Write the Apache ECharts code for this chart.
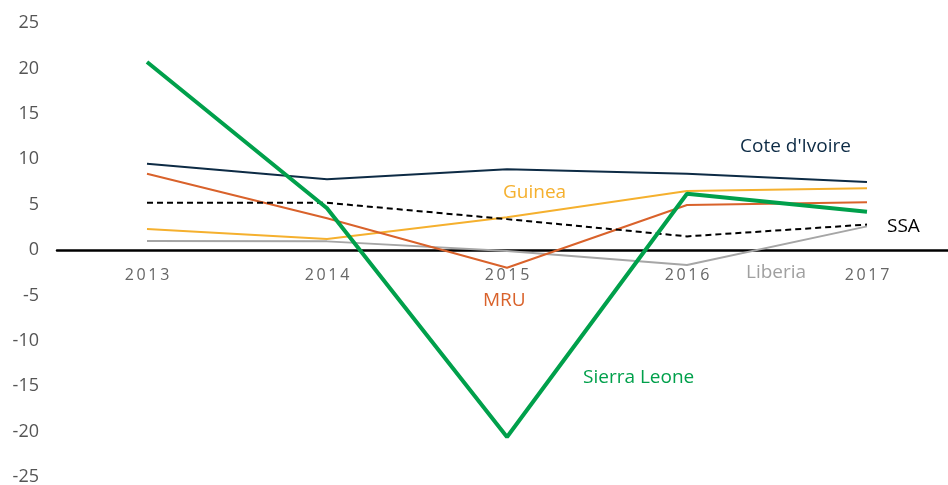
<!DOCTYPE html>
<html>
<head>
<meta charset="utf-8">
<script src="https://cdn.jsdelivr.net/npm/echarts@6/dist/echarts.min.js"></script>
<style>
  html, body { margin: 0; padding: 0; background: #fff; }
  #chart { width: 948px; height: 485px; }
</style>
</head>
<body>
<div id="chart"></div>
<script>
// data
var years = ['2013', '2014', '2015', '2016', '2017'];
var yTicks = [-25, -20, -15, -10, -5, 0, 5, 10, 15, 20, 25];
var coteDIvoire = [9.5, 7.8, 8.9, 8.4, 7.5];
var mru = [8.4, 3.5, -1.95, 4.95, 5.25];
var ssa = [5.2, 5.2, 3.4, 1.5, 2.8];
var guinea = [2.3, 1.2, 3.6, 6.5, 6.8];
var liberia = [1.0, 0.95, -0.1, -1.65, 2.6];
var sierraLeone = [20.7, 4.6, -20.6, 6.2, 4.2];

var chart = echarts.init(document.getElementById('chart'));
var font = '"Open Sans", "Noto Sans", sans-serif';
var gridTop = 23, gridHeight = 454;
var yMin = yTicks[0], yMax = yTicks[yTicks.length - 1];
// x轴放在0值处（标签一起移动）
var zeroOffset = -gridHeight * (0 - yMin) / (yMax - yMin);

function line(name, data, color, width, dashed) {
    return {
        name: name, type: 'line', data: data, symbol: 'none',
        lineStyle: {color: color, width: width, type: dashed ? [6, 4] : 'solid'},
        z: name == 'Sierra Leone' ? 5 : 3
    };
}

//文字标签 (x=左边, y=中线)
function label(text, x, y, color) {
    return {type: 'text', x: x, y: y, z: 10,
        style: {text: text, fill: color, font: '19px ' + font, verticalAlign: 'middle'}};
}

chart.setOption({
    animation: false,
    grid: {left: 57, top: gridTop, width: 900, height: gridHeight, outerBoundsMode: 'none', containLabel: false},
    xAxis: {
        type: 'category', data: years, boundaryGap: true, position: 'bottom', offset: zeroOffset,
        axisLine: {onZero: false, lineStyle: {color: '#000', width: 2.5}},
        axisTick: {show: false},
        axisLabel: {color: '#666', fontSize: 16, fontFamily: font, margin: 17,
            formatter: function (v) { return v.split('').join('\u2009'); }}
    },
    yAxis: {
        type: 'value', min: yMin, max: yMax, interval: 5,
        axisLine: {show: false}, axisTick: {show: false}, splitLine: {show: false},
        axisLabel: {color: '#555', fontSize: 18, fontFamily: font, margin: 18}
    },
    series: [
        line('Liberia', liberia, '#a6a6a6', 2),
        line('Guinea', guinea, '#f5b02e', 2),
        line('MRU', mru, '#d9622b', 2),
        line('SSA', ssa, '#000', 2, true),
        line("Cote d'Ivoire", coteDIvoire, '#0d2b45', 2),
        line('Sierra Leone', sierraLeone, '#00a04b', 4)
    ],
    graphic: [
        label("Cote d'Ivoire", 740, 147, '#0d2b45'),
        label('Guinea', 503, 193, '#f5b02e'),
        label('MRU', 483, 301, '#d9622b'),
        label('Liberia', 746, 273, '#a0a0a0'),
        label('SSA', 887, 227, '#000'),
        label('Sierra Leone', 583, 378, '#00a04b')
    ]
});
</script>
</body>
</html>
